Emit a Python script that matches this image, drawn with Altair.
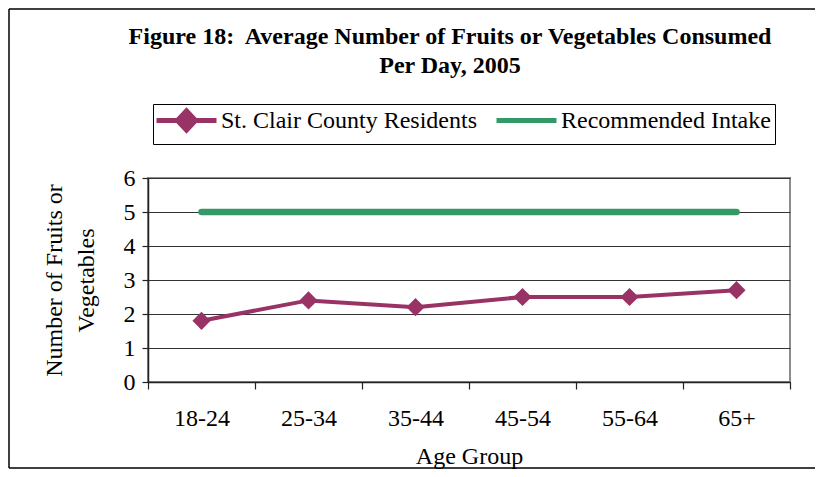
import altair as alt
import pandas as pd

categories = ["18-24", "25-34", "35-44", "45-54", "55-64", "65+"]
county = [1.8, 2.4, 2.2, 2.5, 2.5, 2.7]
recommended = [5, 5, 5, 5, 5, 5]
series_names = ["St. Clair County Residents", "Recommended Intake"]
y_ticks = [0, 1, 2, 3, 4, 5, 6]

PURPLE = "#993366"
GREEN = "#339966"
FONT = "Liberation Serif"

df = pd.DataFrame({
    "age": categories + categories,
    "value": county + recommended,
    "series": [series_names[0]] * len(categories) + [series_names[1]] * len(categories),
})

x = alt.X(
    "age:N", sort=categories,
    scale=alt.Scale(type="band", paddingInner=0, paddingOuter=0),
    axis=alt.Axis(title="Age Group", tickBand="extent", labelAngle=0, grid=False,
                  tickSize=7, labelPadding=17, titlePadding=14, labelOverlap=False),
)
y = alt.Y(
    "value:Q", scale=alt.Scale(domain=[0, 6], nice=False),
    axis=alt.Axis(values=y_ticks, tickCount=7, title=["Number of Fruits or", "Vegetables"],
                  tickSize=6, labelPadding=7, titlePadding=25, grid=True,
                  titleLineHeight=32, labelOverlap=False),
)

base = alt.Chart(df).encode(x=x, y=y)

green_line = base.transform_filter(alt.datum.series == series_names[1]).mark_line(
    color=GREEN, strokeWidth=6.5, strokeCap="round")
purple_line = base.transform_filter(alt.datum.series == series_names[0]).mark_line(
    color=PURPLE, strokeWidth=4)
purple_pts = base.transform_filter(alt.datum.series == series_names[0]).mark_point(
    shape="diamond", filled=True, size=330, color=PURPLE, opacity=1)

sym_paths = [
    "M-3,0L3,0M-0.9,0L0,-0.95L0.9,0L0,0.95Z",
    "M-3,0L3,0M0,-0.95L0,-0.95M0,0.95L0,0.95",
]
leg = alt.Legend(
    title=None, orient="none", legendX=5, legendY=-74, direction="horizontal",
    strokeColor="black", padding=4, labelFont=FONT, labelFontSize=24,
    labelColor="black", labelLimit=0, symbolSize=400, symbolStrokeWidth=5,
    symbolOffset=17, labelOffset=22, columnPadding=8, symbolOpacity=1,
)
legend_layer = alt.Chart(df).transform_filter("false").mark_point(filled=True).encode(
    x=alt.X("age:N", sort=categories),
    y=alt.Y("value:Q"),
    fill=alt.Fill("series:N", scale=alt.Scale(domain=series_names, range=[PURPLE, GREEN]), legend=leg),
    stroke=alt.Stroke("series:N", scale=alt.Scale(domain=series_names, range=[PURPLE, GREEN]), legend=leg),
    shape=alt.Shape("series:N", scale=alt.Scale(domain=series_names, range=sym_paths), legend=leg),
)

one = pd.DataFrame({"f": [0]})
frame_left = alt.Chart(one).mark_rule(color="black", strokeWidth=1.5, clip=False).encode(
    x=alt.value(-139), y=alt.value(-169), y2=alt.value(290))
frame_top = alt.Chart(one).mark_rule(color="black", strokeWidth=1.5, clip=False).encode(
    x=alt.value(-139), x2=alt.value(667), y=alt.value(-169))
frame_bottom = alt.Chart(one).mark_rule(color="black", strokeWidth=1.5, clip=False).encode(
    x=alt.value(-139), x2=alt.value(667), y=alt.value(290))

chart = alt.layer(
    green_line, purple_line, purple_pts, legend_layer, frame_left, frame_top, frame_bottom
).properties(
    width=642, height=204,
    autosize=alt.AutoSizeParams(type="none"),
    padding={"left": 140, "top": 170, "right": 25, "bottom": 87},
    title=alt.Title(
        text=["Figure 18:\u00a0 Average Number of Fruits or Vegetables Consumed", "Per Day, 2005"],
        font=FONT, fontSize=24, fontWeight="bold", color="black", anchor="middle",
        frame="group", dx=-19, offset=0, dy=70, lineHeight=29,
    ),
    background="white",
).configure_view(
    stroke="#8c8c8c", strokeWidth=2
).configure_axis(
    labelFont=FONT, labelFontSize=24, labelColor="black",
    titleFont=FONT, titleFontSize=24, titleFontWeight="normal", titleColor="black",
    domainColor="#222222", domainWidth=1.5, tickColor="#222222", tickWidth=1.2,
    gridColor="#333333", gridWidth=1,
).configure_legend(
    labelFont=FONT, labelFontSize=24, labelColor="black", labelLimit=0,
)

chart.save("out.html", embed_options={"renderer": "svg", "actions": False})
